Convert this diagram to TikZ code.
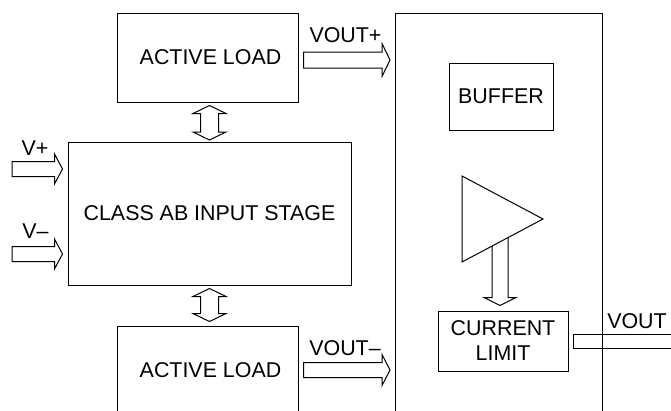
\documentclass[tikz,border=0pt]{standalone}
\usepackage{fontspec}
\setmainfont{Liberation Sans}
\usetikzlibrary{calc}
\tikzset{
  box/.style={draw, line width=1pt, inner sep=0pt, align=center, font=\fontsize{21.4}{25}\selectfont},
  lbl/.style={inner sep=0pt, anchor=base, font=\fontsize{21.4}{25}\selectfont},
  fat/.style={draw, line width=1pt, fill=white, line join=miter},
  wire/.style={draw, line width=1pt},
}
% horizontal outline arrow: start point, tip point, shaft half width, head half width, head length
\newcommand\fatH[5]{\path[fat] let \p1=#1, \p2=#2 in
  (\x1,\y1+#3) -- (\x2-#5,\y1+#3) -- (\x2-#5,\y1+#4) -- (\x2,\y1) --
  (\x2-#5,\y1-#4) -- (\x2-#5,\y1-#3) -- (\x1,\y1-#3) -- cycle;}
% vertical double-headed outline arrow: top tip, bottom tip
\newcommand\fatV[5]{\path[fat] let \p1=#1, \p2=#2 in
  (\x1,\y1) -- (\x1+#4,\y1-#5) -- (\x1+#3,\y1-#5) -- (\x1+#3,\y2+#5) --
  (\x1+#4,\y2+#5) -- (\x1,\y2) -- (\x1-#4,\y2+#5) -- (\x1-#3,\y2+#5) --
  (\x1-#3,\y1-#5) -- (\x1-#4,\y1-#5) -- cycle;}
% downward outline arrow: start (flat top), tip
\newcommand\fatD[5]{\path[fat] let \p1=#1, \p2=#2 in
  (\x1-#3,\y1) -- (\x1-#3,\y2+#5) -- (\x1-#4,\y2+#5) -- (\x1,\y2) --
  (\x1+#4,\y2+#5) -- (\x1+#3,\y2+#5) -- (\x1+#3,\y1) -- cycle;}
\begin{document}
\begin{tikzpicture}[x=1pt,y=-1pt]
\useasboundingbox (0,0) rectangle (671,410);
\fill[white] (0,0) rectangle (671,410);
\clip (0,0) rectangle (671,410);

% blocks
\node[box, minimum width=207pt, minimum height=417pt] (outbox) at (498.5,221.5) {};
\node[box, minimum width=181pt, minimum height=89pt, text depth=0pt] (loadtop) at (207.5,57.5) {\hspace*{6pt}ACTIVE LOAD};
\node[box, minimum width=283pt, minimum height=143pt] (classab) at (209.5,213.5) {CLASS AB INPUT STAGE};
\node[box, minimum width=181pt, minimum height=89pt] (loadbot) at (207.5,370.5) {\hspace*{6pt}ACTIVE LOAD};
\node[box, minimum width=104pt, minimum height=67pt] (buffer) at (501,96.5) {BUFFER};
\node[box, minimum width=130pt, minimum height=60pt] (climit) at (503,341) {CURRENT\\LIMIT};

% free ends
\coordinate (vp) at (12,169);
\coordinate (vm) at (12,254);
\coordinate (dtop) at (500,232);
\coordinate (voutend) at (690,341);

% input arrows
\fatH{(vp)}{($(classab.west)+(-5,0)$)}{7.5pt}{15pt}{8pt}
\fatH{(vm)}{($(classab.west)+(-5,0)$)}{7.5pt}{15pt}{8pt}

% output arrows of the loads
\fatH{($(loadtop.east)+(5,2.5)$)}{($(outbox.west)+(-4.5,0)$)}{8pt}{16.5pt}{8pt}
\fatH{($(loadbot.east)+(5,-0.5)$)}{($(outbox.west)+(-4.5,0)$)}{7.5pt}{15.5pt}{8pt}

% double arrows between loads and input stage
\fatV{($(loadtop.south)+(2,3)$)}{($(classab.north)+(0,-1.5)$)}{9pt}{16.5pt}{8pt}
\fatV{($(classab.south)+(0,3)$)}{($(loadbot.north)+(0,-4)$)}{9pt}{16.5pt}{8pt}

% amplifier to current limit
\fatD{(dtop)}{($(climit.north)+(-3,-5)$)}{8pt}{16pt}{8pt}

% amplifier triangle
\coordinate (ampu) at (462,176);
\coordinate (ampd) at (462,262);
\coordinate (ampo) at (543,219);
\path[fat] (ampu) -- (ampo) -- (ampd) -- cycle;

% VOUT output lead
\path[wire] let \p1=($(climit.east)+(5,0)$), \p2=(voutend) in
  (\x2,\y1+7pt) -- (\x1,\y1+7pt) -- (\x1,\y1-7pt) -- (\x2,\y1-7pt);

% labels
\node[lbl] (lvp) at (35,155) {V+};
\node[lbl] (lvm) at (35.5,238) {V–};
\node[lbl] (lvoutp) at (345.5,42) {VOUT+};
\node[lbl] (lvoutm) at (345,355) {VOUT–};
\node[lbl] (lvout) at (637,328) {VOUT};
\end{tikzpicture}
\end{document}
